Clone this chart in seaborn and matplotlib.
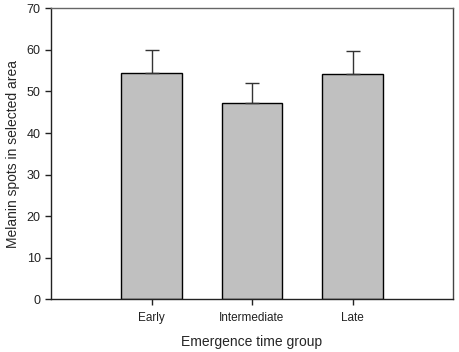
import matplotlib
matplotlib.use("Agg")
import matplotlib.pyplot as plt
import seaborn as sns
import pandas as pd
import numpy as np

categories = ["Early", "Intermediate", "Late"]
means = [54.4, 47.3, 54.3]
errors = [5.6, 4.8, 5.5]
yticks = [0, 10, 20, 30, 40, 50, 60, 70]

sns.set_style("ticks")
plt.rcParams['font.family'] = ['Liberation Sans', 'DejaVu Sans']

df = pd.DataFrame({"group": categories, "value": means})

fig = plt.figure(figsize=(4.59, 3.52), dpi=100)
ax = fig.add_axes([51/459, 1 - 299.3/352, 402/459, (299.3 - 8.3)/352])

sns.barplot(data=df, x="group", y="value", color="#c0c0c0", width=0.6,
            edgecolor="black", linewidth=1.0, errorbar=None, ax=ax, saturation=1)
ax.errorbar(np.arange(len(categories)), means, yerr=[np.zeros(3), errors],
            fmt="none", ecolor="#333333", elinewidth=1.0, capsize=5, capthick=1.0)

ax.set_xlim(-1, 3)
ax.set_ylim(0, 70)
ax.set_yticks(yticks)
for s in ax.spines.values():
    s.set_visible(True)
    s.set_linewidth(1.0)
    s.set_color("#222222")
ax.spines["top"].set_color("#666666")
ax.spines["right"].set_color("#444444")
ax.tick_params(axis="both", direction="out", length=4, width=1, labelsize=8.5, colors="#222222")
ax.tick_params(axis="y", labelsize=9)
ax.tick_params(axis="x", pad=5)
ax.set_xlabel("Emergence time group", fontsize=10, labelpad=8)
ax.set_ylabel("Melanin spots in selected area", fontsize=10, labelpad=5)

fig.savefig("out.png", dpi=100)
